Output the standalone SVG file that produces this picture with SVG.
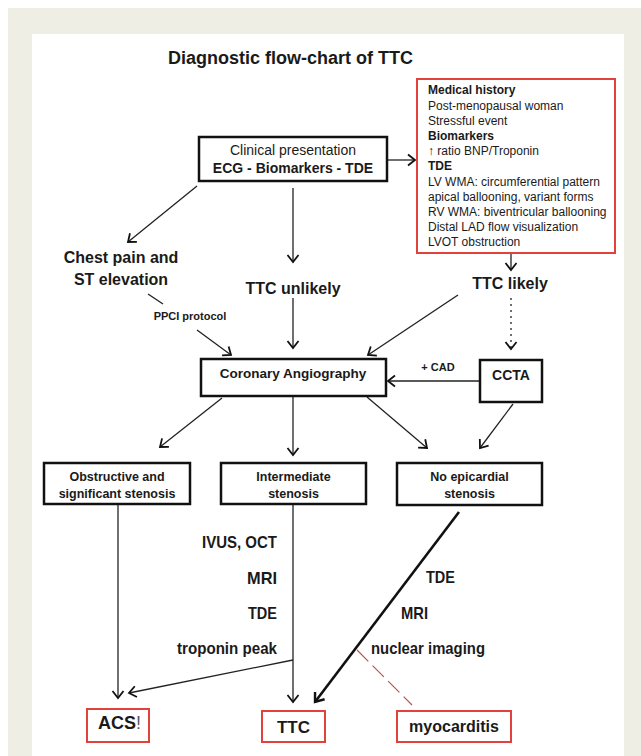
<svg xmlns="http://www.w3.org/2000/svg" width="641" height="756" viewBox="0 0 641 756">
<style>
text{font-family:"Liberation Sans",Arial,sans-serif;fill:#1a1a1a}
.b{font-weight:bold}
.box{fill:#fff;stroke:#111;stroke-width:2.5}
.rbox{fill:#fff;stroke:#e2423b;stroke-width:2}
.ln{fill:none;stroke:#222;stroke-width:1.3}
.c{text-anchor:middle}
.r{text-anchor:end}
.sm{font-size:12px}
</style>
<defs>
<marker id="ah" markerUnits="userSpaceOnUse" markerWidth="20" markerHeight="20" viewBox="-10 -10 20 20" refX="0" refY="0" orient="auto">
<path d="M-7,-5.5 L0,0 L-7,5.5" fill="none" stroke="#111" stroke-width="1.8"/>
</marker>
<marker id="ahb" markerUnits="userSpaceOnUse" markerWidth="20" markerHeight="20" viewBox="-10 -10 20 20" refX="0" refY="0" orient="auto">
<path d="M-8,-6 L0,0 L-8,6" fill="none" stroke="#111" stroke-width="2.4"/>
</marker>
</defs>
<rect x="0" y="0" width="641" height="756" fill="#fff"/>
<rect x="8" y="8" width="633" height="748" fill="#efeee4"/>
<rect x="32" y="34" width="592" height="722" fill="#fff"/>

<text id="title" class="b" x="168" y="64" font-size="18">Diagnostic flow-chart of TTC</text>

<g id="connectors">
<line class="ln" x1="387" y1="160" x2="415" y2="160" marker-end="url(#ah)"/>
<line class="ln" x1="197" y1="186" x2="128" y2="242" marker-end="url(#ah)"/>
<line class="ln" x1="293" y1="188" x2="293" y2="262" marker-end="url(#ah)"/>
<line class="ln" x1="511" y1="254" x2="511" y2="270" marker-end="url(#ah)"/>
<line class="ln" x1="293" y1="298" x2="293" y2="348" marker-end="url(#ah)"/>
<line class="ln" x1="148" y1="294" x2="163" y2="304"/>
<line class="ln" x1="197" y1="330" x2="231" y2="355" marker-end="url(#ah)"/>
<line class="ln" x1="458" y1="295" x2="368" y2="355" marker-end="url(#ah)"/>
<line class="ln" x1="511" y1="298" x2="511" y2="349" stroke-dasharray="2 4" marker-end="url(#ah)"/>
<line class="ln" x1="480" y1="381" x2="388" y2="381" marker-end="url(#ah)"/>
<line class="ln" x1="222" y1="398" x2="160" y2="447" marker-end="url(#ah)"/>
<line class="ln" x1="293" y1="396" x2="293" y2="455" marker-end="url(#ah)"/>
<line class="ln" x1="367" y1="397" x2="427" y2="448" marker-end="url(#ah)"/>
<line class="ln" x1="513" y1="404" x2="480" y2="448" marker-end="url(#ah)"/>
<line class="ln" x1="118" y1="504" x2="118" y2="698" marker-end="url(#ah)"/>
<line class="ln" x1="293" y1="504" x2="293" y2="702" marker-end="url(#ah)"/>
<line class="ln" x1="293" y1="660" x2="129" y2="693" marker-end="url(#ah)"/>
<line x1="459" y1="512" x2="315" y2="702" fill="none" stroke="#111" stroke-width="2.6" marker-end="url(#ahb)"/>
<line x1="357" y1="650" x2="412" y2="705" fill="none" stroke="#c0504d" stroke-width="1.2" stroke-dasharray="16 6"/>
</g>

<g id="clinical">
<rect class="box" x="199" y="137" width="188" height="44"/>
<text class="c" x="293" y="155" font-size="14">Clinical presentation</text>
<text class="c b" x="293" y="173" font-size="14">ECG - Biomarkers - TDE</text>
</g>

<g id="criteria">
<rect class="rbox" x="417" y="79" width="198" height="174"/>
<text class="sm b" x="428" y="94">Medical history</text>
<text class="sm" x="428" y="109.5">Post-menopausal woman</text>
<text class="sm" x="428" y="124.7">Stressful event</text>
<text class="sm b" x="428" y="139.9">Biomarkers</text>
<text class="sm" x="428" y="155.1">↑ ratio BNP/Troponin</text>
<text class="sm b" x="428" y="170.3">TDE</text>
<text class="sm" x="428" y="185.5">LV WMA: circumferential pattern</text>
<text class="sm" x="428" y="200.7">apical ballooning, variant forms</text>
<text class="sm" x="428" y="215.9">RV WMA: biventricular  ballooning</text>
<text class="sm" x="428" y="231.1">Distal LAD flow visualization</text>
<text class="sm" x="428" y="246.3">LVOT obstruction</text>
</g>

<g id="chestpain">
<text class="c b" x="121" y="263" font-size="16">Chest pain and</text>
<text class="c b" x="121" y="285" font-size="16">ST elevation</text>
</g>
<g id="ppci">
<text class="c b" x="190" y="320" font-size="11">PPCI protocol</text>
</g>
<g id="unlikely">
<text class="c b" x="293" y="294" font-size="16">TTC unlikely</text>
</g>
<g id="likely">
<text class="c b" x="510" y="289" font-size="16">TTC likely</text>
</g>

<g id="angio">
<rect class="box" x="201" y="359" width="185" height="37"/>
<text class="c b" x="293" y="378" font-size="13.5">Coronary Angiography</text>
</g>
<g id="ccta">
<rect class="box" x="480" y="360" width="62" height="42"/>
<text class="c b" x="511" y="380" font-size="14">CCTA</text>
</g>
<g id="cad">
<text class="c b" x="438" y="371" font-size="11">+ CAD</text>
</g>

<g id="obstructive">
<rect class="box" x="44" y="463" width="146" height="41"/>
<text class="c b" x="117" y="480.5" font-size="12.5">Obstructive and</text>
<text class="c b" x="117" y="497.5" font-size="12.5">significant stenosis</text>
</g>
<g id="intermediate">
<rect class="box" x="221" y="463" width="145" height="41"/>
<text class="c b" x="293.5" y="480.5" font-size="12.5">Intermediate</text>
<text class="c b" x="293.5" y="497.5" font-size="12.5">stenosis</text>
</g>
<g id="noepi">
<rect class="box" x="397" y="463" width="145" height="42"/>
<text class="c b" x="469.5" y="480.5" font-size="12.5">No epicardial</text>
<text class="c b" x="469.5" y="497.5" font-size="12.5">stenosis</text>
</g>

<g id="labels-left">
<text class="r b" x="277" y="548" font-size="17" textLength="75" lengthAdjust="spacingAndGlyphs">IVUS, OCT</text>
<text class="r b" x="277" y="584" font-size="17" textLength="30" lengthAdjust="spacingAndGlyphs">MRI</text>
<text class="r b" x="277" y="619" font-size="17" textLength="29" lengthAdjust="spacingAndGlyphs">TDE</text>
<text class="r b" x="277" y="654" font-size="17" textLength="100" lengthAdjust="spacingAndGlyphs">troponin peak</text>
</g>
<g id="labels-right">
<text class="b" x="426" y="583" font-size="17" textLength="29" lengthAdjust="spacingAndGlyphs">TDE</text>
<text class="b" x="401" y="619" font-size="17" textLength="27" lengthAdjust="spacingAndGlyphs">MRI</text>
<text class="b" x="371" y="654" font-size="17" textLength="114" lengthAdjust="spacingAndGlyphs">nuclear imaging</text>
</g>

<g id="acs">
<rect class="rbox" x="87" y="709" width="62" height="33"/>
<text x="98" y="729" font-size="18"><tspan class="b">ACS</tspan><tspan fill="#555">!</tspan></text>
</g>
<g id="ttc">
<rect class="rbox" x="262" y="711" width="63" height="31"/>
<text class="c b" x="293.5" y="733" font-size="17">TTC</text>
</g>
<g id="myocarditis">
<rect class="rbox" x="397" y="711" width="114" height="31"/>
<text class="c b" x="454" y="732" font-size="16">myocarditis</text>
</g>
</svg>
